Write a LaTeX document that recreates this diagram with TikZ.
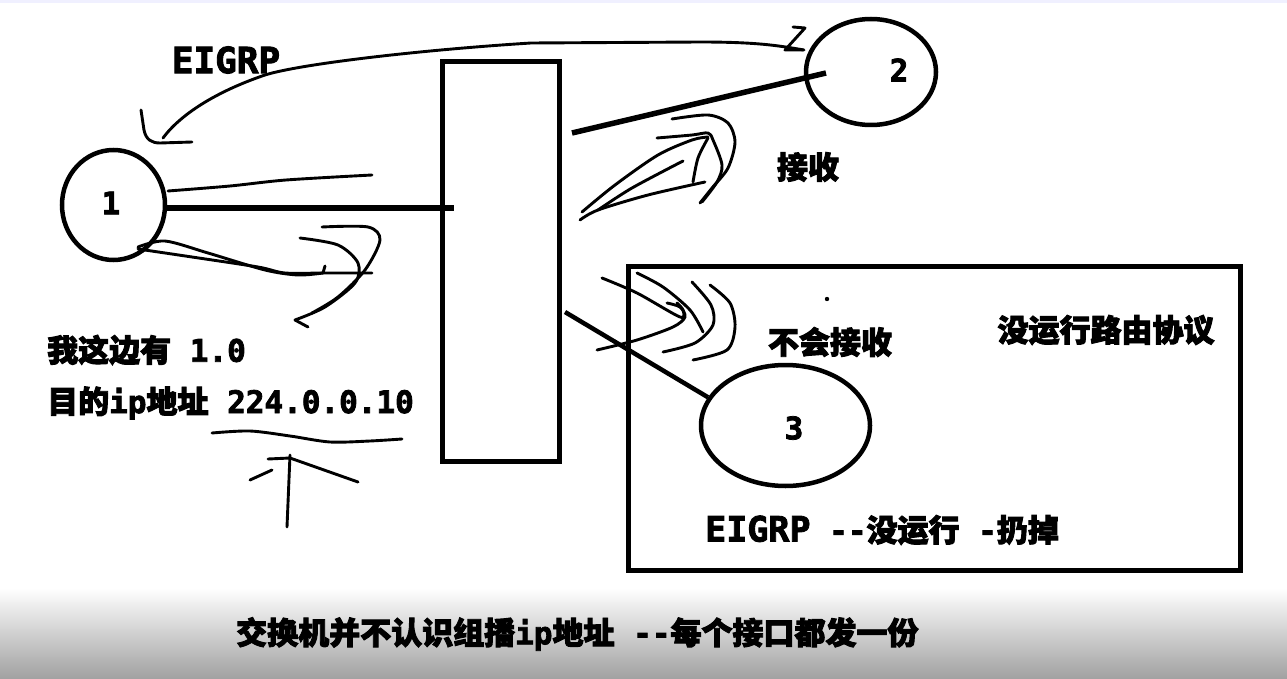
\documentclass[tikz,border=0pt]{standalone}
\usepackage{fontspec}
\setmainfont{Noto Sans CJK SC}[BoldFeatures={FakeBold=3}]
\newfontfamily\latfont{DejaVu Sans Mono}[BoldFeatures={FakeBold=2.5}]
\newcommand\latn[1]{{\latfont #1}}
\usetikzlibrary{shapes.geometric}
\begin{document}
\begin{tikzpicture}[x=1pt,y=-1pt,
  ell/.style={draw, ellipse, line width=4.5pt, inner sep=0pt},
  wire/.style={line width=5.5pt},
  scrib/.style={line width=2.9pt, line cap=round, line join=round},
  txt/.style={inner sep=0pt, font=\bfseries\fontsize{31}{36}\selectfont},
  bigtxt/.style={inner sep=0pt, font=\bfseries\fontsize{36}{40}\selectfont}]
\useasboundingbox (0,0) rectangle (1287,679);
\fill[white] (0,0) rectangle (1287,679);
\fill[blue!6] (0,0) rectangle (1287,3);
\shade[top color=white, bottom color=black!37] (0,588) rectangle (1287,679);

% nodes
\node[ell, minimum width=103, minimum height=110] (c1) at (113.5,205) {};
\node[ell, minimum width=130, minimum height=106] (c2) at (871,72) {};
\node[ell, minimum width=169, minimum height=121] (c3) at (785.5,425.5) {};
\node[draw, line width=5pt, minimum width=117, minimum height=400, inner sep=0pt] (sw) at (501,261.5) {};
\node[draw, line width=5pt, minimum width=612, minimum height=304, inner sep=0pt] (box) at (934.5,418.5) {};

\node[txt] (l1) at (111,203) {\latn{1}};
\node[txt] (l2) at (899,70) {\latn{2}};
\node[txt] (l3) at (794,428) {\latn{3}};

% links
\coordinate (sw1) at (454,208);
\coordinate (sw2) at (572,133);
\coordinate (c2in) at (826,73);
\coordinate (sw3) at (565,312);
\draw[wire] ([yshift=-3pt]c1.east) -- (sw1);
\draw[wire] (sw2) -- (c2in);
\draw[line width=4.5pt] (sw3) -- (c3.160);

% EIGRP curve from 2 back to 1
\coordinate (e0) at (804,50);
\coordinate (e1) at (163,138);
\draw[scrib] (e0) .. controls (780,46) and (760,42) .. (700,42) -- (531,43)
  .. controls (420,50) and (300,64) .. (265,75) .. controls (215,92) and (180,115) .. (e1);
\draw[scrib] (141,110) -- (144,130) .. controls (146,140) and (152,143) .. (160,143) -- (192,142);
\draw[scrib] (793,27) -- (805,28) -- (785,50) -- (803,50);

% thin stroke from 1
\draw[scrib] plot[smooth] coordinates {(168,191) (230,186) (286,180) (372,175)};

% scribbles from 1 (lower)
\draw[scrib] plot[smooth] coordinates {(138,247) (165,241) (208,253) (265,270) (298,275) (323,273)};
\draw[scrib] (323,273) -- (325,266);
\draw[scrib] plot[smooth] coordinates {(138,249) (192,257) (258,267) (285,273) (325,273) (372,273)};
\draw[scrib] plot[smooth] coordinates {(300,238) (338,245) (358,263) (355,283) (325,307) (295,320)};
\draw[scrib] (295,320) -- (308,327);
\draw[scrib] plot[smooth] coordinates {(322,227) (368,227) (380,240) (365,270) (338,297) (312,313)};

% scribbles towards 2
\draw[scrib] plot[smooth] coordinates {(672,119) (708,115) (728,123) (735,142) (728,168) (712,188) (700,203)};
\draw[scrib] plot[smooth] coordinates {(657,138) (692,135) (708,133) (713,140) (722,165) (717,182) (702,202)};
\draw[scrib] plot[smooth] coordinates {(582,212) (615,185) (658,155) (692,140) (708,137)};
\draw[scrib] plot[smooth] coordinates {(580,220) (598,210) (648,195) (705,182)};
\draw[scrib] plot[smooth] coordinates {(598,210) (632,188) (683,161)};
\draw[scrib] plot[smooth] coordinates {(708,138) (698,158) (693,182)};

% scribbles towards 3
\draw[scrib] plot[smooth] coordinates {(602,278) (637,293) (680,317) (683,310) (677,303)};
\draw[scrib] plot[smooth] coordinates {(637,273) (663,287) (690,310) (703,332)};
\draw[scrib] plot[smooth] coordinates {(692,282) (711,305) (713,325) (695,343) (663,352)};
\draw[scrib] plot[smooth] coordinates {(710,285) (730,303) (735,327) (727,350) (693,360)};
\draw[scrib] plot[smooth] coordinates {(597,350) (637,340) (673,327) (685,317) (680,307) (667,303)};

% dot
\fill (827,299) circle (2.2);

% underline and arrow
\draw[scrib] plot[smooth] coordinates {(212,433) (250,431) (290,436) (330,442) (370,441) (402,439)};
\draw[scrib] (268,459) -- (290,458) -- (358,482);
\draw[scrib] (250,480) -- (272,470);
\draw[scrib] (290,455) -- (287,527);

% texts
\node[bigtxt] (t1) at (226,60) {\latn{EIGRP}};
\node[txt] (t2) at (808,167) {接收};
\node[txt, anchor=west] (t3) at (47,350) {我这边有\latn{ 1.0}};
\node[txt, anchor=west] (t4) at (47,403) {目的\latn{ip}地址\latn{ 224.0.0.10}};
\node[txt] (t5) at (830,342) {不会接收};
\node[txt] (t6) at (1106,330) {没运行路由协议};
\node[txt, anchor=west] (t7) at (705,530) {\latn{\fontsize{35}{40}\selectfont EIGRP}\latn{ -{}-}没运行\latn{ -}扔掉};
\node[txt, anchor=west] (t8) at (236,634) {交换机并不认识组播\latn{ip}地址\latn{ -{}-}每个接口都发一份};
\end{tikzpicture}
\end{document}
